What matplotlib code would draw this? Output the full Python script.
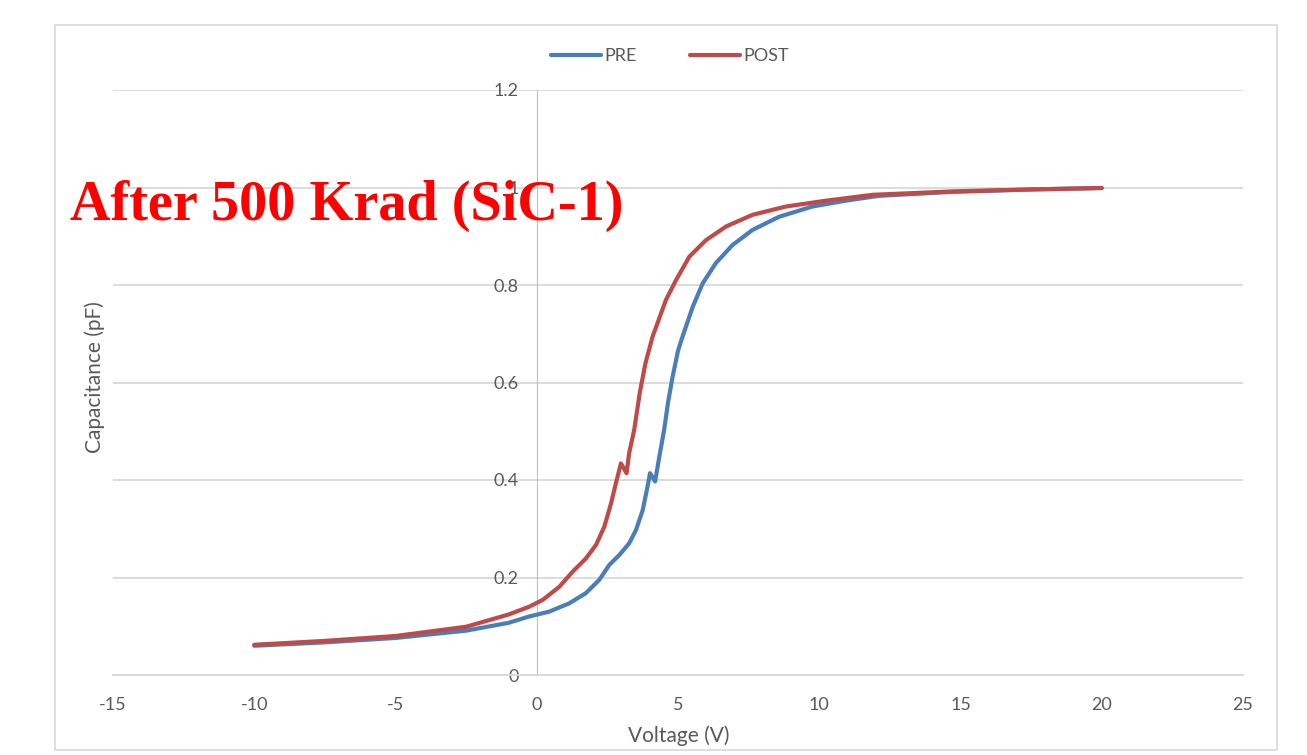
import matplotlib.pyplot as plt
from matplotlib.patches import Rectangle

# data
v_pre = [-10, -7.5, -5, -2.5, -1, -0.27, 0.44, 1.15, 1.74, 2.21, 2.57, 2.92, 3.27, 3.51,
         3.75, 3.92, 4.01, 4.19, 4.34, 4.51, 4.65, 4.81, 5.0, 5.16, 5.52, 5.87, 6.34,
         6.93, 7.64, 8.58, 9.76, 10.94, 12.12, 14.72, 17.5, 20]
c_pre = [0.060, 0.067, 0.076, 0.091, 0.107, 0.120, 0.130, 0.147, 0.168, 0.195, 0.226,
         0.246, 0.270, 0.297, 0.338, 0.386, 0.414, 0.397, 0.448, 0.503, 0.560, 0.612,
         0.665, 0.694, 0.755, 0.803, 0.845, 0.882, 0.913, 0.940, 0.961, 0.973, 0.983,
         0.991, 0.996, 0.999]

v_post = [-10, -7.5, -5, -2.5, -1, -0.27, 0.21, 0.80, 1.27, 1.74, 2.10, 2.39, 2.63, 2.80,
          2.98, 3.18, 3.27, 3.45, 3.65, 3.85, 4.10, 4.57, 4.93, 5.40, 5.99, 6.70, 7.64,
          8.82, 10.24, 11.89, 14.72, 17.5, 20]
c_post = [0.062, 0.070, 0.080, 0.099, 0.124, 0.140, 0.154, 0.181, 0.212, 0.239, 0.267,
          0.304, 0.352, 0.393, 0.434, 0.414, 0.455, 0.503, 0.580, 0.640, 0.694, 0.769,
          0.810, 0.858, 0.892, 0.920, 0.944, 0.961, 0.973, 0.985, 0.992, 0.996, 0.999]

x_ticks = [-15, -10, -5, 0, 5, 10, 15, 20, 25]
y_ticks = [0, 0.2, 0.4, 0.6, 0.8, 1.0, 1.2]
y_tick_labels = ['0', '0.2', '0.4', '0.6', '0.8', '1', '1.2']

plt.rcParams['font.family'] = ['Lato', 'DejaVu Sans']
gris = '#595959'

fig = plt.figure(figsize=(13.07, 7.55), dpi=100)
# marco gris del grafico
fig.patches.append(Rectangle((55/1307, 5/755), 1222/1307, 725/755, transform=fig.transFigure,
                             fill=False, edgecolor='#d9d9d9', linewidth=1.2))

ax = fig.add_axes([113/1307, 1-675/755, 1130/1307, 585/755])
ax.plot(v_pre, c_pre, color='#4A7EBB', linewidth=3.0, label='PRE',
        solid_joinstyle='round', solid_capstyle='round', zorder=3)
ax.plot(v_post, c_post, color='#BE4B48', linewidth=3.0, label='POST',
        solid_joinstyle='round', solid_capstyle='round', zorder=4)

ax.set_xlim(-15, 25)
ax.set_ylim(0, 1.2)
ax.set_xticks(x_ticks)
ax.set_xticklabels([str(t) for t in x_ticks])
ax.set_yticks(y_ticks)
ax.set_yticklabels(y_tick_labels)
ax.tick_params(axis='both', length=0, labelsize=13, labelcolor=gris)
ax.tick_params(axis='y', pad=13)
ax.tick_params(axis='x', pad=16)

ax.grid(axis='y', color='#d9d9d9', linewidth=1.3)
ax.spines['top'].set_visible(False)
ax.spines['right'].set_visible(False)
ax.spines['left'].set_position(('data', 0))
ax.spines['left'].set_color('#bfbfbf')
ax.spines['bottom'].set_color('#d9d9d9')
ax.spines['bottom'].set_linewidth(1.3)

ax.set_xlabel('Voltage (V)', fontsize=15, color=gris)
ax.xaxis.set_label_coords(0.501, -0.103)
ax.xaxis.label.set_va('center')
ax.set_ylabel('Capacitance (pF)', fontsize=15, color=gris)
ax.yaxis.set_label_coords(-0.016, 0.51)
ax.yaxis.label.set_va('center')

leg = ax.legend(loc='center', bbox_to_anchor=(670/1307, 1-56/755), bbox_transform=fig.transFigure,
                ncol=2, frameon=False, fontsize=13, handlelength=2.8, handletextpad=0.2,
                columnspacing=2.9)
for t in leg.get_texts():
    t.set_color(gris)

# titulo rojo
fig.text(70/1307, 1-220/755, 'After 500 Krad (SiC-1)', fontsize=40.5, fontweight='bold',
         color='#ff0000', family='Liberation Serif', va='baseline', ha='left')

plt.savefig('out.png', dpi=100)
